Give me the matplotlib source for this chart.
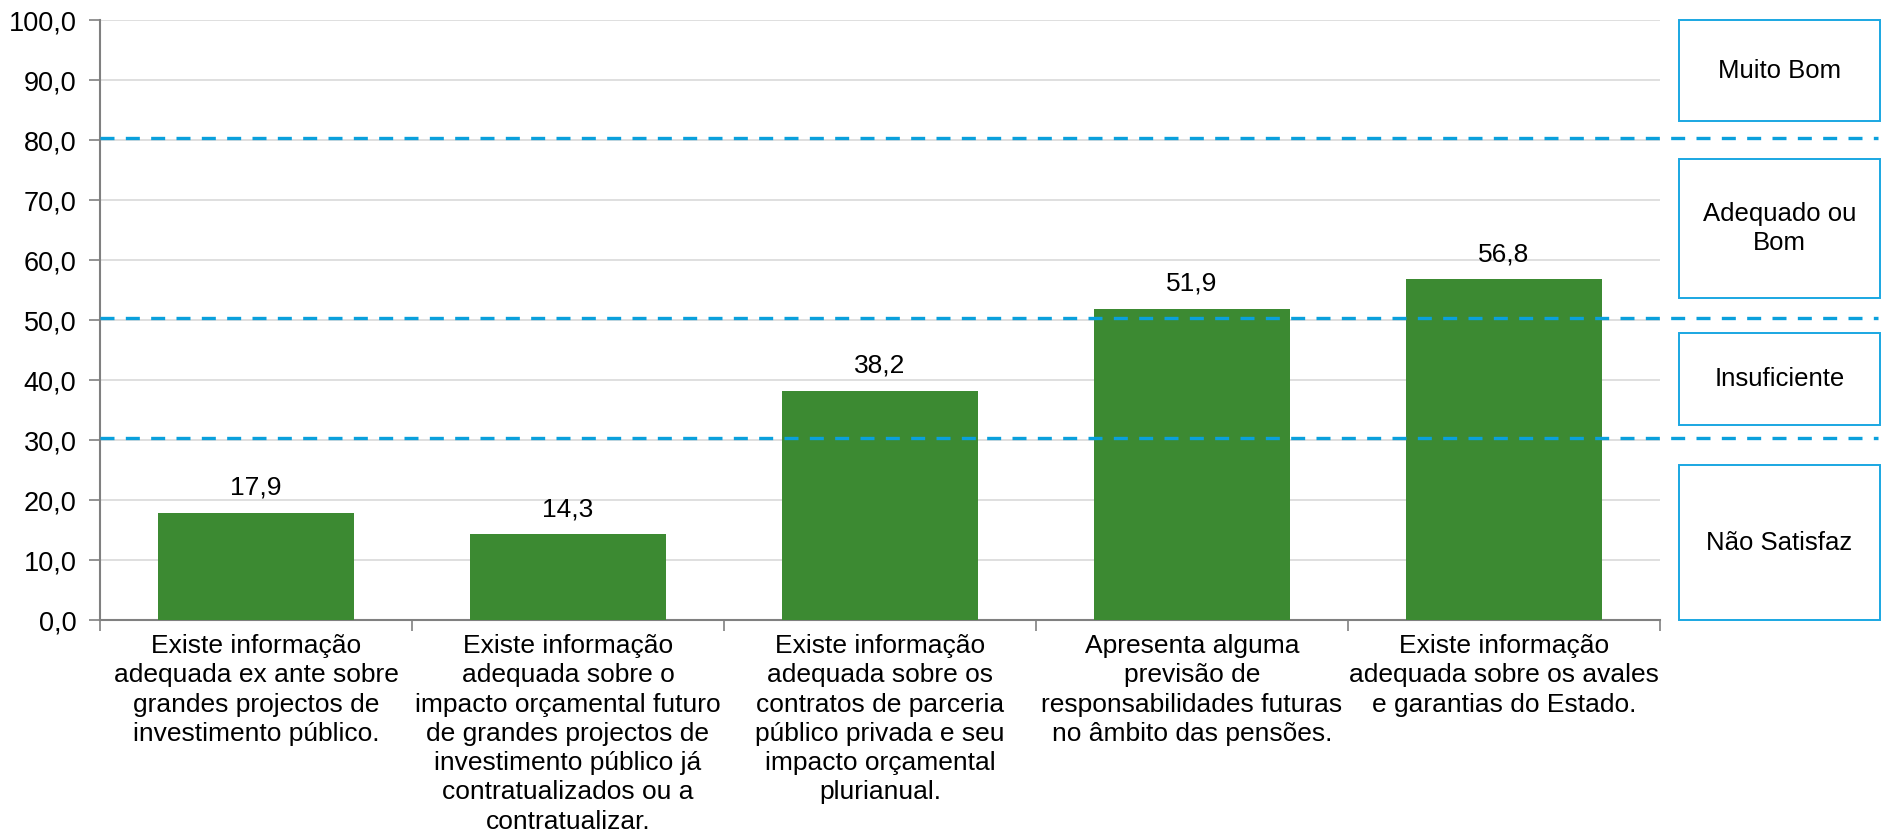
import matplotlib.pyplot as plt
from matplotlib.patches import Rectangle
from matplotlib.ticker import FuncFormatter

plt.rcParams['font.family'] = ['Liberation Sans', 'DejaVu Sans']

categories = [
    "Existe informação\nadequada ex ante sobre\ngrandes projectos de\ninvestimento público.",
    "Existe informação\nadequada sobre o\nimpacto orçamental futuro\nde grandes projectos de\ninvestimento público já\ncontratualizados ou a\ncontratualizar.",
    "Existe informação\nadequada sobre os\ncontratos de parceria\npúblico privada e seu\nimpacto orçamental\nplurianual.",
    "Apresenta alguma\nprevisão de\nresponsabilidades futuras\nno âmbito das pensões.",
    "Existe informação\nadequada sobre os avales\ne garantias do Estado.",
]
values = [17.9, 14.3, 38.2, 51.9, 56.8]

# limiares das classes
thresholds = [80.4, 50.4, 30.4]
class_labels = ["Muito Bom", "Adequado ou\nBom", "Insuficiente", "Não Satisfaz"]
# caixas à direita (px da figura: y topo, y base)
box_rows = [(20, 121), (159, 298), (333, 425), (465, 620)]

W, H = 1883, 840
fig = plt.figure(figsize=(W / 100, H / 100), dpi=100)
ax = fig.add_axes([100 / W, 1 - 620 / H, 1560 / W, 600 / H])

x = range(len(values))
ax.bar(x, values, width=0.63, color='#3c8a32', zorder=3)
for i, v in enumerate(values):
    ax.annotate(f"{v:.1f}".replace('.', ','), (i, v), xytext=(0, 13),
                textcoords='offset points', ha='center', va='baseline', fontsize=19)

ax.set_ylim(0, 100)
ax.set_xlim(-0.5, len(values) - 0.5)
ax.set_yticks(range(0, 101, 10))
ax.yaxis.set_major_formatter(FuncFormatter(lambda v, p: f"{v:.1f}".replace('.', ',')))
ax.grid(axis='y', color='#d9d9d9', lw=1.2, zorder=0)
ax.set_xticks(list(x))
ax.set_xticklabels(categories, fontsize=19, linespacing=1.28)
ax.set_xticks([i - 0.5 for i in range(len(values) + 1)], minor=True)
ax.tick_params(axis='x', which='major', length=0, pad=10)
ax.tick_params(axis='x', which='minor', length=8, color='#808080', width=1.2)
ax.tick_params(axis='y', length=8, color='#808080', width=1.2, labelsize=19.5, pad=9)

for s in ['top', 'right']:
    ax.spines[s].set_visible(False)
for s in ['left', 'bottom']:
    ax.spines[s].set_color('#808080')
    ax.spines[s].set_linewidth(1.5)

# linhas tracejadas que ultrapassam o eixo
for t in thresholds:
    ax.plot([0, (1878 - 100) / 1560], [t, t], transform=ax.get_yaxis_transform(),
            color='#0aa0dc', lw=2.4, ls=(0, (4.2, 3.4)), clip_on=False, zorder=4)

for lab, (y0, y1) in zip(class_labels, box_rows):
    fig.add_artist(Rectangle((1679 / W, 1 - y1 / H), 201 / W, (y1 - y0) / H,
                             transform=fig.transFigure, fill=False,
                             edgecolor='#1aa7e2', lw=1.4))
    fig.text((1679 + 100.5) / W, 1 - (y0 + y1) / 2 / H, lab, ha='center', va='center',
             fontsize=18.5, linespacing=1.25)

fig.savefig('out.png', dpi=100)
